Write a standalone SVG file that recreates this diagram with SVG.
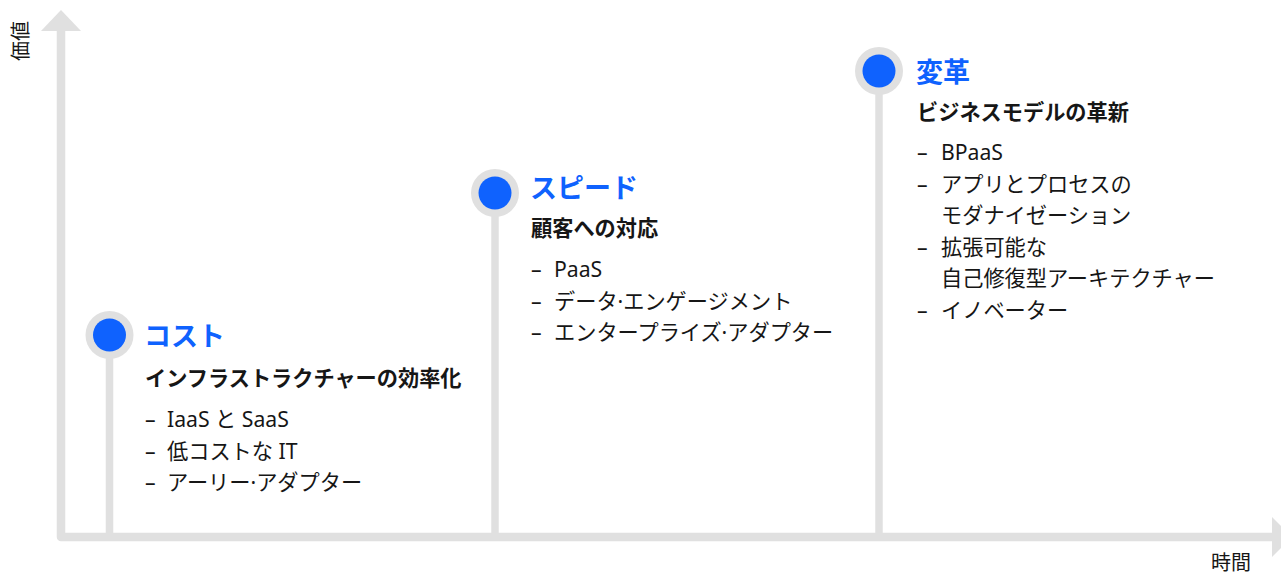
<svg xmlns="http://www.w3.org/2000/svg" width="1281" height="576" viewBox="0 0 1281 576">
<style>
.ax{fill:none;stroke:#e0e0e0;stroke-width:8.5;stroke-linejoin:round}
.ah{fill:#e0e0e0}
.stem{stroke:#e0e0e0;stroke-width:7.5}
.ring{fill:#e0e0e0}
.dot{fill:#0f62fe}
text{font-family:"Noto Sans","Noto Sans CJK JP",sans-serif;fill:#161616}
.t{font-family:"Noto Sans CJK JP",sans-serif;font-size:27px;font-weight:bold;fill:#0f62fe}
.s{font-family:"Noto Sans CJK JP",sans-serif;font-size:21.2px;font-weight:bold}
.b{font-size:21.2px}
.lab{font-family:"Noto Sans CJK JP",sans-serif;font-size:20px;fill:#161616}
</style>
<rect width="1281" height="576" fill="#ffffff"/>
<g id="connectors">
<path class="ax" d="M61,30 V537 H1273"/>
<polygon class="ah" points="41,31 61,10 81,31"/>
<polygon class="ah" points="1272,517 1292,537 1272,557"/>
<line class="stem" x1="109.5" y1="335" x2="109.5" y2="537"/>
<line class="stem" x1="495" y1="193" x2="495" y2="537"/>
<line class="stem" x1="879" y1="71" x2="879" y2="537"/>
</g>
<g id="axis-labels">
<text class="lab" transform="translate(28,41) rotate(-90)" text-anchor="middle">価値</text>
<text class="lab" x="1251" y="570" text-anchor="end">時間</text>
</g>
<g id="cost">
<circle class="ring" cx="109.5" cy="335" r="24"/>
<circle class="dot" cx="109.5" cy="335" r="16.5"/>
<text class="t" x="144" y="346">コスト</text>
<text class="s" x="145" y="386">インフラストラクチャーの効率化</text>
<text class="b" x="145" y="427">–</text><text class="b" x="167" y="427">IaaS と SaaS</text>
<text class="b" x="145" y="458.5">–</text><text class="b" x="167" y="458.5">低コストな IT</text>
<text class="b" x="145" y="490">–</text><text class="b" x="167" y="490">アーリー·アダプター</text>
</g>
<g id="speed">
<circle class="ring" cx="495" cy="193" r="24"/>
<circle class="dot" cx="495" cy="193" r="16.5"/>
<text class="t" x="530" y="198">スピード</text>
<text class="s" x="531" y="236">顧客への対応</text>
<text class="b" x="531" y="277">–</text><text class="b" x="554" y="277">PaaS</text>
<text class="b" x="531" y="308.5">–</text><text class="b" x="554" y="308.5">データ·エンゲージメント</text>
<text class="b" x="531" y="340">–</text><text class="b" x="554" y="340">エンタープライズ·アダプター</text>
</g>
<g id="transform">
<circle class="ring" cx="879" cy="71" r="24"/>
<circle class="dot" cx="879" cy="71" r="16.5"/>
<text class="t" x="916" y="82">変革</text>
<text class="s" x="917" y="120">ビジネスモデルの革新</text>
<text class="b" x="917" y="160">–</text><text class="b" x="941" y="160">BPaaS</text>
<text class="b" x="917" y="191.5">–</text><text class="b" x="941" y="191.5">アプリとプロセスの</text>
<text class="b" x="941" y="223">モダナイゼーション</text>
<text class="b" x="917" y="254.5">–</text><text class="b" x="941" y="254.5">拡張可能な</text>
<text class="b" x="941" y="286">自己修復型アーキテクチャー</text>
<text class="b" x="917" y="317.5">–</text><text class="b" x="941" y="317.5">イノベーター</text>
</g>
</svg>
